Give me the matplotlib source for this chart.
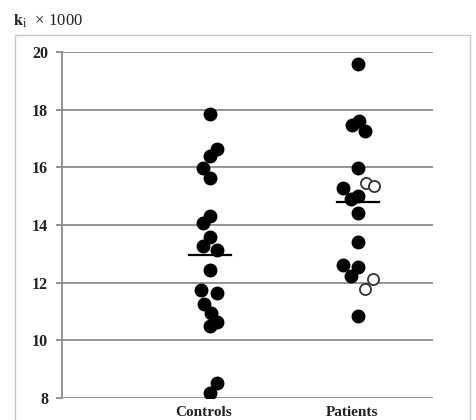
import numpy as np
import matplotlib.pyplot as plt
from matplotlib.patches import Rectangle

# values (k_i x 1000)
groups = ["Controls", "Patients"]
controls = [17.85, 16.63, 16.40, 15.99, 15.62, 14.31, 14.06, 13.59, 13.28, 13.13,
            12.44, 11.75, 11.63, 11.25, 10.95, 10.62, 10.48, 8.51, 8.18]
controls_dx = [0, 0.05, 0, -0.05, 0, 0, -0.05, 0, -0.05, 0.05,
               0, -0.06, 0.05, -0.04, 0.01, 0.05, 0, 0.05, 0]
patients = [19.57, 17.62, 17.47, 17.26, 15.98, 15.27, 15.00, 14.89, 14.40, 13.40,
            12.61, 12.55, 12.23, 10.84]
patients_dx = [0, 0.01, -0.04, 0.05, 0, -0.1, 0, -0.05, 0, 0,
               -0.1, 0, -0.05, 0]
patients_open = [15.45, 15.35, 12.12, 11.77]
patients_open_dx = [0.055, 0.11, 0.1, 0.05]
mean_controls = 12.96
mean_patients = 14.80

plt.rcParams['font.family'] = ['Liberation Serif', 'DejaVu Serif']
plt.rcParams['mathtext.fontset'] = 'stix'

fig = plt.figure(figsize=(4.76, 4.2), dpi=100)
ax = fig.add_axes([62/476, 1 - 398/420, (433 - 62)/476, (398 - 52)/420])

# outer frame
fig.patches.append(Rectangle((15/476, -0.1), (470 - 15)/476, 1.1 - 35/420,
                             transform=fig.transFigure, fill=False,
                             edgecolor='#c8c8c8', lw=1.0))

for y in range(8, 21, 2):
    ax.axhline(y, color='#8c8c8c', lw=1.3, zorder=1)

xc = np.array(controls_dx) + 1
xp = np.array(patients_dx) + 2
xo = np.array(patients_open_dx) + 2
ax.plot(xc, controls, 'o', color='black', ms=9, zorder=3)
ax.plot(xp, patients, 'o', color='black', ms=9, zorder=3)
ax.plot(xo, patients_open, 'o', mfc='white', mec='#333333', mew=1.3, ms=8, zorder=3)

ax.plot([0.86, 1.14], [mean_controls] * 2, color='black', lw=1.6, zorder=4)
ax.plot([1.86, 2.14], [mean_patients] * 2, color='black', lw=1.6, zorder=4)

ax.set_xlim(0, 2.507)
ax.set_ylim(8, 20)
ax.set_yticks(range(8, 21, 2))
ax.set_xticks([0.96, 1.96])
ax.set_xticklabels(groups, fontsize=11, fontweight='bold', color='#222222')
ax.tick_params(axis='x', length=0, pad=6)
ax.tick_params(axis='y', length=4, width=1.3, color='#8c8c8c', pad=6)
for lab in ax.get_yticklabels():
    lab.set_fontweight('bold')
    lab.set_fontsize(11.5)
    lab.set_color('#222222')

for s in ['top', 'right', 'bottom']:
    ax.spines[s].set_visible(False)
ax.spines['left'].set_color('#8c8c8c')
ax.spines['left'].set_linewidth(1.3)

fig.text(13/476, 1 - 21/420, r"$\mathbf{k}_\mathrm{i}$  × 1000", fontsize=12,
         va='center', ha='left', color='#222222')

fig.savefig("out.png", dpi=100)
